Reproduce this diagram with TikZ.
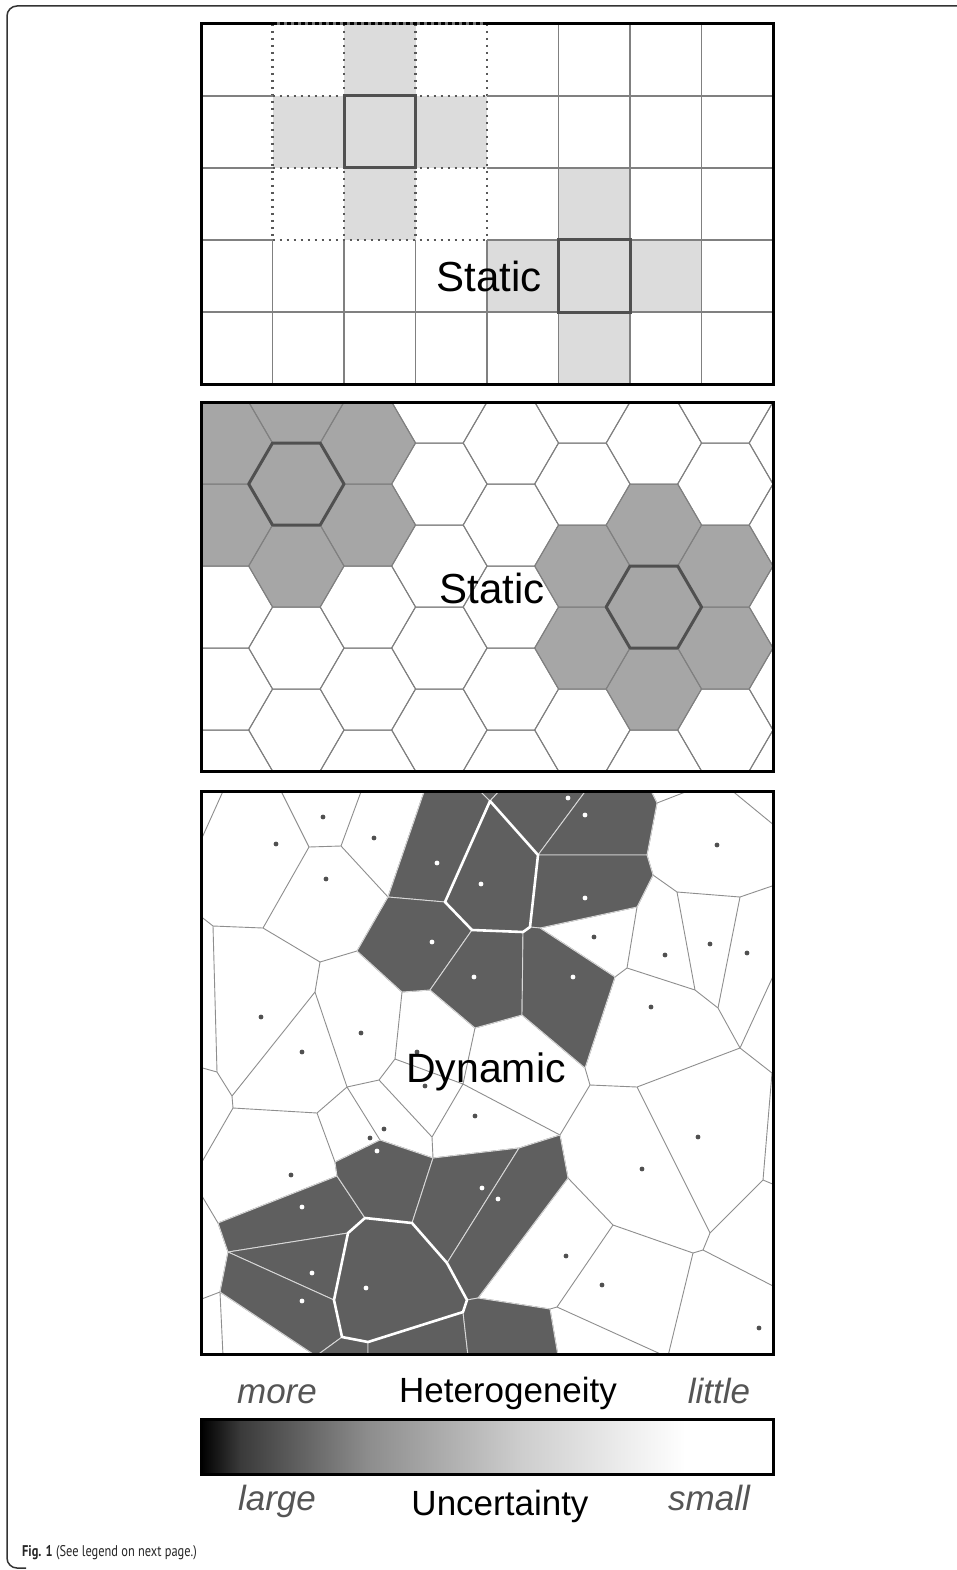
\documentclass[tikz,border=0pt]{standalone}
\usepackage{fontspec}
\setmainfont{Liberation Sans}
\newfontfamily\capfont{PT Sans}
\definecolor{lightcell}{HTML}{DCDCDC}
\definecolor{hexcell}{HTML}{A6A6A6}
\definecolor{darkcell}{HTML}{5F5F5F}
\definecolor{gridline}{HTML}{808080}
\definecolor{dotcol}{HTML}{585858}
\definecolor{boldline}{HTML}{505050}
\definecolor{dotgray}{HTML}{505050}
\definecolor{vline}{HTML}{8E8E8E}
\definecolor{innerline}{HTML}{D8D8D8}
\definecolor{legit}{HTML}{555555}
\definecolor{sa}{HTML}{3A3A3A}
\definecolor{sb}{HTML}{8C8C8C}
\definecolor{sc}{HTML}{CDCDCD}
\begin{document}
\begin{tikzpicture}[x=1pt,y=-1pt,
  gline/.style={draw=gridline,line width=1.1pt},
  dotline/.style={draw=dotcol,line width=2.6pt,dash pattern=on 2.4pt off 4.6pt},
  framebox/.style={draw=black,line width=3pt},
  boldsq/.style={draw=boldline,line width=3pt},
  hexedge/.style={draw=gridline,line width=1pt},
  vedge/.style={draw=vline,line width=0.9pt},
  darkpoly/.style={fill=darkcell,draw=innerline,line width=0.9pt,line join=round},
  boldwhite/.style={draw=white,line width=2.6pt,line join=round},
  lbl/.style={font=\fontsize{42}{48}\selectfont,inner sep=0pt,anchor=base},
  leglbl/.style={font=\fontsize{35}{40}\selectfont,inner sep=0pt,anchor=base},
  legital/.style={font=\fontsize{35}{40}\selectfont\itshape,text=legit,inner sep=0pt,anchor=base}]
\useasboundingbox (0,0) rectangle (956,1570);
\fill[white] (0,0) rectangle (956,1570);
% outer frame
\draw[draw=black!80,line width=1.5pt] (957,6) -- (17,6) to[out=180,in=90] (7,16) -- (7,1558) to[out=-90,in=180] (17,1568) -- (26,1568);

% ================= panel 1: square grid =================
\fill[lightcell] (344,24) rectangle (415.5,96);
\fill[lightcell] (272.5,96) rectangle (487,168);
\fill[lightcell] (344,168) rectangle (415.5,240);
\fill[lightcell] (558.5,168) rectangle (630,240);
\fill[lightcell] (487,240) rectangle (701.5,312);
\fill[lightcell] (558.5,312) rectangle (630,384);
\foreach \x in {272.5,344,415.5,487}{
  \draw[gline] (\x,240) -- (\x,384);
  \draw[dotline] (\x,24) -- (\x,240);
}
\foreach \x in {558.5,630,701.5} \draw[gline] (\x,24) -- (\x,384);
\foreach \y in {96,168,240}{
  \draw[gline] (201,\y) -- (272.5,\y);
  \draw[gline] (487,\y) -- (773,\y);
  \draw[dotline] (272.5,\y) -- (487,\y);
}
\draw[gline] (201,312) -- (773,312);
\draw[boldsq] (344,96) rectangle (415.5,168);
\draw[boldsq] (558.5,240) rectangle (630,312);
\draw[framebox] (272.5,24) -- (201,24) -- (201,384) -- (773,384) -- (773,24) -- (487,24);
\draw[draw=black!55,line width=3pt] (272.5,24) -- (487,24);
\draw[draw=black,line width=3pt,dash pattern=on 4.5pt off 2.5pt] (272.5,24) -- (487,24);
\node[lbl,name=staticA] at (489,291) {Static};

% ================= panel 2: hexagons =================
\begin{scope}
\clip (201,402) rectangle (773,771);
\foreach \i/\k in {1/0,1/2,1/4,0/1,0/3,2/1,2/3,6/3,6/5,6/7,5/4,5/6,7/4,7/6}{
  \pgfmathsetmacro\cx{224.85+71.5*\i}
  \pgfmathsetmacro\cy{402+41*\k}
  \fill[hexcell] (\cx-47.67,\cy) -- (\cx-23.83,\cy-41) -- (\cx+23.83,\cy-41) -- (\cx+47.67,\cy) -- (\cx+23.83,\cy+41) -- (\cx-23.83,\cy+41) -- cycle;
}
\foreach \i in {-1,1,3,5,7}{
  \foreach \k in {-2,0,...,10}{
    \pgfmathsetmacro\cx{224.85+71.5*\i}
    \pgfmathsetmacro\cy{402+41*\k}
    \draw[hexedge] (\cx-47.67,\cy) -- (\cx-23.83,\cy-41) -- (\cx+23.83,\cy-41) -- (\cx+47.67,\cy) -- (\cx+23.83,\cy+41) -- (\cx-23.83,\cy+41) -- cycle;
  }
}
\foreach \i in {0,2,4,6,8}{
  \foreach \k in {-1,1,...,11}{
    \pgfmathsetmacro\cx{224.85+71.5*\i}
    \pgfmathsetmacro\cy{402+41*\k}
    \draw[hexedge] (\cx-47.67,\cy) -- (\cx-23.83,\cy-41) -- (\cx+23.83,\cy-41) -- (\cx+47.67,\cy) -- (\cx+23.83,\cy+41) -- (\cx-23.83,\cy+41) -- cycle;
  }
}
\foreach \i/\k in {1/2,6/5}{
  \pgfmathsetmacro\cx{224.85+71.5*\i}
  \pgfmathsetmacro\cy{402+41*\k}
  \draw[boldsq,line join=round] (\cx-47.67,\cy) -- (\cx-23.83,\cy-41) -- (\cx+23.83,\cy-41) -- (\cx+47.67,\cy) -- (\cx+23.83,\cy+41) -- (\cx-23.83,\cy+41) -- cycle;
}
\end{scope}
\draw[framebox] (201,402) rectangle (773,771);
\node[lbl,name=staticB] at (492,603) {Static};

% ================= panel 3: Voronoi =================
\coordinate (v1) at (309,847);  \coordinate (v2) at (341,846);
\coordinate (v3) at (263,928);  \coordinate (v4) at (213,926);
\coordinate (v5) at (388,897);  \coordinate (v6) at (320,962);
\coordinate (v7) at (357,951);  \coordinate (v8) at (402,992);
\coordinate (v9) at (430,990);  \coordinate (v10) at (472,930);
\coordinate (v11) at (445,902); \coordinate (v12) at (490,801);
\coordinate (v13) at (315,992); \coordinate (v14) at (232,1096);
\coordinate (v15) at (217,1072);\coordinate (v16) at (233,1108);
\coordinate (v17) at (317,1113);\coordinate (v18) at (347,1087);
\coordinate (v19) at (379,1080);\coordinate (v20) at (395,1059);
\coordinate (v21) at (463,1084);\coordinate (v22) at (432,1137);
\coordinate (v23) at (433,1158);\coordinate (v24) at (335,1162);
\coordinate (v25) at (337,1176);\coordinate (v26) at (380,1140);
\coordinate (v27) at (218,1223);\coordinate (v28) at (365,1218);
\coordinate (v29) at (412,1223);\coordinate (v30) at (519,1148);
\coordinate (v31) at (228,1252);\coordinate (v32) at (348,1233);
\coordinate (v33) at (334,1300);\coordinate (v34) at (220,1292);
\coordinate (v35) at (316,1356);\coordinate (v36) at (447,1263);
\coordinate (v37) at (467,1300);\coordinate (v38) at (463,1312);
\coordinate (v39) at (478,1298);\coordinate (v40) at (368,1342);
\coordinate (v41) at (342,1337);\coordinate (v42) at (568,1178);
\coordinate (v43) at (550,1309);\coordinate (v44) at (557,1307);
\coordinate (v45) at (613,1225);\coordinate (v46) at (693,1253);
\coordinate (v47) at (560,1135);\coordinate (v48) at (590,1085);
\coordinate (v49) at (585,1068);\coordinate (v50) at (637,1087);
\coordinate (v51) at (615,977); \coordinate (v52) at (522,1015);
\coordinate (v53) at (740,1048);\coordinate (v54) at (710,1233);
\coordinate (v55) at (718,1008);\coordinate (v57) at (772,1073);
\coordinate (v58) at (763,1180);\coordinate (v59) at (703,1250);
\coordinate (v60) at (695,990); \coordinate (v61) at (740,897);
\coordinate (v62) at (677,892); \coordinate (v63) at (627,968);
\coordinate (v64) at (637,907); \coordinate (v65) at (540,928);
\coordinate (v66) at (653,875); \coordinate (v67) at (647,855);
\coordinate (v69) at (657,803); \coordinate (v70) at (538,855);
\coordinate (v71) at (530,927); \coordinate (v72) at (523,932);
\coordinate (v73) at (475,1028);
% frame points
\coordinate (f1) at (224,789);  \coordinate (f2) at (199,844.5);
\coordinate (f3) at (280,789);  \coordinate (f4) at (362,789);
\coordinate (f5) at (199,915);  \coordinate (f6) at (425,789);
\coordinate (f7) at (478,789);  \coordinate (f8) at (501,789);
\coordinate (f9) at (587,789);  \coordinate (f10) at (650,789);
\coordinate (f11) at (693,789); \coordinate (f12) at (730,789);
\coordinate (f13) at (775,826); \coordinate (f14) at (775,885);
\coordinate (f15) at (775,972); \coordinate (f16) at (775,1076);
\coordinate (f17) at (775,1185);\coordinate (f18) at (775,1287);
\coordinate (f19) at (668,1356);\coordinate (f20) at (665,1356);
\coordinate (f21) at (558,1356);\coordinate (f22) at (468,1356);
\coordinate (f23) at (368,1356);\coordinate (f24) at (199,1191);
\coordinate (f25) at (199,1300);\coordinate (f26) at (223,1356);
\coordinate (f27) at (199,1167);\coordinate (f28) at (199,1067);
\begin{scope}
\clip (201,791) rectangle (773,1354);
\draw[vedge]
 (f1)--(f2) (v1)--(f3) (v2)--(f4) (v1)--(v2) (v1)--(v3) (v2)--(v5) (v4)--(f5)
 (v3)--(v4) (v3)--(v6) (v6)--(v7) (v5)--(v7) (v5)--(f6) (v5)--(v11) (v7)--(v8)
 (v8)--(v9) (v9)--(v10) (v10)--(v11) (v11)--(v12) (v12)--(f7) (v12)--(f8)
 (v12)--(v70) (v70)--(f9) (v70)--(v67) (v67)--(v69) (v69)--(f10) (v69)--(f11)
 (f12)--(f13) (v67)--(v66) (v66)--(v64) (v66)--(v62) (v62)--(v61) (v62)--(v60)
 (v61)--(f14) (v61)--(v55) (v60)--(v55) (v60)--(v63) (v63)--(v64) (v63)--(v51)
 (v64)--(v65) (v65)--(v71) (v71)--(v70) (v71)--(v72) (v72)--(v10) (v72)--(v52)
 (v65)--(v51) (v51)--(v49) (v52)--(v49) (v52)--(v73) (v73)--(v9) (v73)--(v21)
 (v55)--(v53) (v53)--(f15) (v53)--(v57) (v57)--(f16) (v57)--(v58) (v53)--(v50)
 (v50)--(v48) (v48)--(v49) (v48)--(v47) (v50)--(v54) (v54)--(v58) (v58)--(f17)
 (v54)--(v59) (v59)--(f18) (v59)--(v46) (v46)--(v45) (v46)--(f19) (v45)--(v42)
 (v45)--(v44) (v44)--(f20) (v44)--(v43) (v43)--(f21) (v43)--(v39) (v42)--(v39)
 (v42)--(v47) (v47)--(v30) (v47)--(v21) (v30)--(v23) (v30)--(v36) (v36)--(v29)
 (v36)--(v37) (v37)--(v39) (v37)--(v38) (v38)--(f22) (v38)--(v40) (v40)--(f23)
 (v40)--(v41) (v41)--(v35) (v41)--(v33) (v33)--(v32) (v33)--(v31) (v32)--(v31)
 (v32)--(v28) (v28)--(v29) (v28)--(v25) (v29)--(v23) (v23)--(v22) (v22)--(v21)
 (v22)--(v19) (v21)--(v20) (v20)--(v19) (v20)--(v8) (v19)--(v18) (v18)--(v13)
 (v18)--(v17) (v18)--(v26) (v26)--(v24) (v26)--(v23) (v24)--(v17) (v24)--(v25)
 (v25)--(v27) (v27)--(f24) (v27)--(v31) (v31)--(v34) (v34)--(f25) (v34)--(f26)
 (v34)--(v35) (v17)--(v16) (v16)--(f27) (v16)--(v14) (v14)--(v15) (v14)--(v13)
 (v15)--(f28) (v15)--(v4) (v13)--(v6);
% dark cells, upper group
\filldraw[darkpoly] (v5)--(f6)--(f7)--(v12)--(v11)--cycle;
\filldraw[darkpoly] (v12)--(f7)--(f8)--cycle;
\filldraw[darkpoly] (v12)--(f8)--(f9)--(v70)--cycle;
\filldraw[darkpoly] (v70)--(f9)--(f10)--(v69)--(v67)--cycle;
\filldraw[darkpoly] (v70)--(v67)--(v66)--(v64)--(v65)--(v71)--cycle;
\filldraw[darkpoly] (v5)--(v11)--(v10)--(v9)--(v8)--(v7)--cycle;
\filldraw[darkpoly] (v10)--(v72)--(v52)--(v73)--(v9)--cycle;
\filldraw[darkpoly] (v72)--(v71)--(v65)--(v51)--(v49)--(v52)--cycle;
\filldraw[darkpoly] (v11)--(v12)--(v70)--(v71)--(v72)--(v10)--cycle;
% dark cells, lower group
\filldraw[darkpoly] (v27)--(v25)--(v28)--(v32)--(v31)--cycle;
\filldraw[darkpoly] (v25)--(v24)--(v26)--(v23)--(v29)--(v28)--cycle;
\filldraw[darkpoly] (v23)--(v30)--(v36)--(v29)--cycle;
\filldraw[darkpoly] (v30)--(v47)--(v42)--(v39)--(v37)--(v36)--cycle;
\filldraw[darkpoly] (v31)--(v32)--(v33)--cycle;
\filldraw[darkpoly] (v31)--(v33)--(v41)--(v35)--(v34)--cycle;
\filldraw[darkpoly] (v41)--(v40)--(f23)--(v35)--cycle;
\filldraw[darkpoly] (v40)--(v38)--(f22)--(f23)--cycle;
\filldraw[darkpoly] (v38)--(v37)--(v39)--(v43)--(f21)--(f22)--cycle;
\filldraw[darkpoly] (v28)--(v29)--(v36)--(v37)--(v38)--(v40)--(v41)--(v33)--(v32)--cycle;
% bold white outlines
\draw[boldwhite] (v11)--(v12)--(v70)--(v71)--(v72)--(v10)--cycle;
\draw[boldwhite] (v28)--(v29)--(v36)--(v37)--(v38)--(v40)--(v41)--(v33)--(v32)--cycle;
% dots
\foreach \px/\py in {323/817,276/844,374/838,326/879,261/1017,361/1033,302/1052,417/1052,425/1086,475/1116,384/1129,370/1138,291/1175,594/937,665/955,710/944,747/953,717/845,651/1007,698/1137,642/1169,566/1256,602/1285,759/1328}
  \fill[dotgray] (\px,\py) circle (2.4pt);
\foreach \px/\py in {437/863,481/884,432/942,474/977,568/798,585/815,585/898,573/977,377/1151,482/1188,498/1199,302/1207,312/1273,366/1288,302/1301}
  \fill[white] (\px,\py) circle (2.4pt);
\end{scope}
\draw[framebox] (201,791) rectangle (773,1354);
\node[lbl,font=\fontsize{41}{48}\selectfont,name=dynamic] at (486,1082) {Dynamic};

% ================= legend =================
\node[legital,name=more] at (277,1403) {more};
\node[leglbl,name=hetero] at (508,1402) {Heterogeneity};
\node[legital,name=little] at (719,1403) {little};
\shade[left color=black,right color=sa] (201,1419) rectangle (240.5,1474);
\shade[left color=sa,right color=sb] (240,1419) rectangle (366.5,1474);
\shade[left color=sb,right color=sc] (366,1419) rectangle (520.5,1474);
\shade[left color=sc,right color=white] (520,1419) rectangle (685.5,1474);
\fill[white] (685,1419) rectangle (773,1474);
\draw[framebox] (201,1419) rectangle (773,1474);
\node[legital,name=large] at (277,1510) {large};
\node[leglbl,name=uncert] at (500,1515) {Uncertainty};
\node[legital,name=small] at (709,1510) {small};

% caption
\node[anchor=base west,inner sep=0pt,text=black!85,name=caption] at (22,1556)
  {\capfont\fontsize{15.5}{18}\selectfont\scalebox{0.8}[1]{\textbf{Fig. 1} (See legend on next page.)}};
\end{tikzpicture}
\end{document}
